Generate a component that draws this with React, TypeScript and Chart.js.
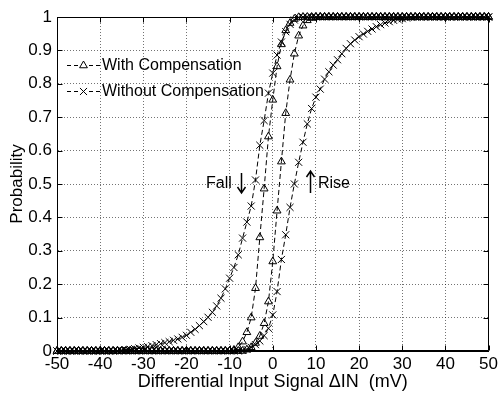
import { useEffect, useRef } from 'react';
import { Chart, registerables } from 'chart.js';

Chart.register(...registerables);

// Differential input signal (mV), one sample per mV
const MV = [
  -50, -49, -48, -47, -46, -45, -44, -43, -42, -41,
  -40, -39, -38, -37, -36, -35, -34, -33, -32, -31,
  -30, -29, -28, -27, -26, -25, -24, -23, -22, -21,
  -20, -19, -18, -17, -16, -15, -14, -13, -12, -11,
  -10, -9, -8, -7, -6, -5, -4, -3, -2, -1,
  0, 1, 2, 3, 4, 5, 6, 7, 8, 9,
  10, 11, 12, 13, 14, 15, 16, 17, 18, 19,
  20, 21, 22, 23, 24, 25, 26, 27, 28, 29,
  30, 31, 32, 33, 34, 35, 36, 37, 38, 39,
  40, 41, 42, 43, 44, 45, 46, 47, 48, 49,
  50,
];

// With compensation, falling input
const FALL_WITH = [
  0, 0, 0, 0, 0, 0, 0, 0, 0, 0,
  0, 0, 0, 0, 0, 0, 0, 0, 0, 0,
  0, 0, 0, 0, 0, 0, 0, 0, 0, 0,
  0, 0, 0, 0, 0, 0, 0, 0, 0, 0,
  0, 0.003, 0.011, 0.028, 0.056, 0.1, 0.188, 0.34, 0.486, 0.642,
  0.752, 0.852, 0.918, 0.96, 0.982, 0.994, 0.999, 1, 1, 1,
  1, 1, 1, 1, 1, 1, 1, 1, 1, 1,
  1, 1, 1, 1, 1, 1, 1, 1, 1, 1,
  1, 1, 1, 1, 1, 1, 1, 1, 1, 1,
  1, 1, 1, 1, 1, 1, 1, 1, 1, 1,
  1,
];

// With compensation, rising input
const RISE_WITH = [
  0, 0, 0, 0, 0, 0, 0, 0, 0, 0,
  0, 0, 0, 0, 0, 0, 0, 0, 0, 0,
  0, 0, 0, 0, 0, 0, 0, 0, 0, 0,
  0, 0, 0, 0, 0, 0, 0, 0, 0, 0,
  0, 0, 0, 0, 0.004, 0.011, 0.024, 0.045, 0.083, 0.148,
  0.268, 0.42, 0.567, 0.712, 0.812, 0.89, 0.944, 0.974, 0.99, 0.997,
  1, 1, 1, 1, 1, 1, 1, 1, 1, 1,
  1, 1, 1, 1, 1, 1, 1, 1, 1, 1,
  1, 1, 1, 1, 1, 1, 1, 1, 1, 1,
  1, 1, 1, 1, 1, 1, 1, 1, 1, 1,
  1,
];

// Without compensation, falling input
const FALL_WITHOUT = [
  0, 0, 0, 0, 0, 0, 0, 0, 0, 0,
  0, 0, 0, 0, 0.001, 0.002, 0.003, 0.005, 0.007, 0.009,
  0.011, 0.013, 0.016, 0.019, 0.022, 0.025, 0.028, 0.032, 0.036, 0.041,
  0.047, 0.056, 0.065, 0.076, 0.088, 0.101, 0.116, 0.135, 0.158, 0.186,
  0.218, 0.25, 0.288, 0.338, 0.386, 0.434, 0.512, 0.616, 0.69, 0.772,
  0.832, 0.886, 0.925, 0.956, 0.978, 0.991, 0.998, 1, 1, 1,
  1, 1, 1, 1, 1, 1, 1, 1, 1, 1,
  1, 1, 1, 1, 1, 1, 1, 1, 1, 1,
  1, 1, 1, 1, 1, 1, 1, 1, 1, 1,
  1, 1, 1, 1, 1, 1, 1, 1, 1, 1,
  1,
];

// Without compensation, rising input
const RISE_WITHOUT = [
  0, 0, 0, 0, 0, 0, 0, 0, 0, 0,
  0, 0, 0, 0, 0, 0, 0, 0, 0, 0,
  0, 0, 0, 0, 0, 0, 0, 0, 0, 0,
  0, 0, 0, 0, 0, 0, 0, 0, 0, 0,
  0, 0, 0, 0.002, 0.005, 0.011, 0.019, 0.03, 0.046, 0.068,
  0.108, 0.178, 0.274, 0.348, 0.43, 0.5, 0.565, 0.625, 0.68, 0.726,
  0.76, 0.784, 0.814, 0.836, 0.856, 0.872, 0.89, 0.906, 0.92, 0.931,
  0.941, 0.949, 0.957, 0.964, 0.971, 0.977, 0.982, 0.986, 0.99, 0.993,
  0.995, 0.997, 0.999, 1, 1, 1, 1, 1, 1, 1,
  1, 1, 1, 1, 1, 1, 1, 1, 1, 1,
  1,
];

const X_TICKS = [-50, -40, -30, -20, -10, 0, 10, 20, 30, 40, 50];
const Y_TICKS = [0, 0.1, 0.2, 0.3, 0.4, 0.5, 0.6, 0.7, 0.8, 0.9, 1];
const LEGEND_LABELS = ['With Compensation', 'Without Compensation'];
const X_TITLE = 'Differential Input Signal \u0394IN  (mV)';
const Y_TITLE = 'Probability';
const FALL_LABEL = 'Fall';
const RISE_LABEL = 'Rise';

const FONT = '"Liberation Sans", Arial, Helvetica, sans-serif';

function drawTriangle(ctx: CanvasRenderingContext2D, x: number, y: number, r: number) {
  ctx.beginPath();
  let rad = 0;
  ctx.moveTo(x + Math.sin(rad) * r, y - Math.cos(rad) * r);
  rad += (2 * Math.PI) / 3;
  ctx.lineTo(x + Math.sin(rad) * r, y - Math.cos(rad) * r);
  rad += (2 * Math.PI) / 3;
  ctx.lineTo(x + Math.sin(rad) * r, y - Math.cos(rad) * r);
  ctx.closePath();
  ctx.stroke();
}

function drawCrossRot(ctx: CanvasRenderingContext2D, x: number, y: number, r: number) {
  const d = Math.cos(Math.PI / 4) * r;
  ctx.beginPath();
  ctx.moveTo(x - d, y - d);
  ctx.lineTo(x + d, y + d);
  ctx.moveTo(x - d, y + d);
  ctx.lineTo(x + d, y - d);
  ctx.stroke();
}

const framePlugin = {
  id: 'frame',
  afterDatasetsDraw(chart: any) {
    const { ctx, chartArea: a, scales } = chart;
    const xs = scales.x;
    const ys = scales.y;
    ctx.save();
    ctx.strokeStyle = '#000';
    ctx.lineWidth = 1;
    ctx.setLineDash([]);
    const L = Math.round(a.left) + 0.5;
    const R = Math.round(a.right) - 0.5;
    const T = Math.round(a.top) + 0.5;
    const B = Math.round(a.bottom) - 0.5;
    ctx.beginPath();
    ctx.moveTo(L, T);
    ctx.lineTo(R, T);
    ctx.lineTo(R, B);
    ctx.lineTo(L, B);
    ctx.closePath();
    ctx.stroke();
    // inward ticks
    ctx.beginPath();
    X_TICKS.forEach((v) => {
      const px = Math.round(xs.getPixelForValue(v)) + 0.5;
      ctx.moveTo(px, B);
      ctx.lineTo(px, B - 5);
      ctx.moveTo(px, T);
      ctx.lineTo(px, T + 5);
    });
    Y_TICKS.forEach((v) => {
      const py = Math.round(ys.getPixelForValue(v)) + 0.5;
      ctx.moveTo(L, py);
      ctx.lineTo(L + 5, py);
      ctx.moveTo(R, py);
      ctx.lineTo(R - 5, py);
    });
    ctx.stroke();

    // legend
    ctx.font = `16px ${FONT}`;
    ctx.fillStyle = '#000';
    ctx.textBaseline = 'middle';
    ctx.textAlign = 'left';
    const rows = [65, 91];
    rows.forEach((ry, i) => {
      ctx.setLineDash([4, 3]);
      ctx.beginPath();
      ctx.moveTo(67, ry + 0.5);
      ctx.lineTo(78, ry + 0.5);
      ctx.moveTo(89, ry + 0.5);
      ctx.lineTo(100, ry + 0.5);
      ctx.stroke();
      ctx.setLineDash([]);
      if (i === 0) drawTriangle(ctx, 83.5, ry + 0.5, 4.5);
      else drawCrossRot(ctx, 83.5, ry + 0.5, 5);
      ctx.fillText(LEGEND_LABELS[i], 102, ry + 1);
    });

    // annotations
    ctx.fillText(FALL_LABEL, 206, 184);
    ctx.fillText(RISE_LABEL, 318, 184);
    const arrow = (x: number, y1: number, y2: number) => {
      ctx.beginPath();
      ctx.moveTo(x, y1);
      ctx.lineTo(x, y2);
      const dir = y2 > y1 ? -1 : 1;
      ctx.moveTo(x - 4, y2 + dir * 6);
      ctx.lineTo(x, y2);
      ctx.lineTo(x + 4, y2 + dir * 6);
      ctx.stroke();
    };
    ctx.lineWidth = 1.5;
    arrow(241.5, 173, 193);
    arrow(310.5, 193, 171);
    ctx.restore();
  },
};

function makeDataset(values: number[], style: string, radius: number) {
  return {
    data: MV.map((m, i) => ({ x: m, y: values[i] })),
    borderColor: '#000',
    borderWidth: 1,
    borderDash: [5, 3],
    pointStyle: style,
    pointRadius: radius,
    pointHoverRadius: radius,
    pointBorderColor: '#000',
    pointBackgroundColor: 'rgba(0,0,0,0)',
    pointBorderWidth: 1,
    fill: false,
    tension: 0,
    clip: 8,
  };
}

export default function App() {
  const ref = useRef<HTMLCanvasElement | null>(null);
  useEffect(() => {
    document.body.style.margin = '0';
    const canvas = ref.current;
    if (!canvas) return;
    const chart = new Chart(canvas, {
      type: 'line',
      data: {
        datasets: [
          makeDataset(FALL_WITHOUT, 'crossRot', 5),
          makeDataset(RISE_WITHOUT, 'crossRot', 5),
          makeDataset(FALL_WITH, 'triangle', 4.5),
          makeDataset(RISE_WITH, 'triangle', 4.5),
        ] as any,
      },
      options: {
        animation: false,
        responsive: false,
        devicePixelRatio: 1,
        layout: { padding: { top: 17, right: 11, left: 0, bottom: 0 } },
        plugins: {
          legend: { display: false },
          tooltip: { enabled: false },
        },
        scales: {
          x: {
            type: 'linear',
            min: -50,
            max: 50,
            afterFit: (s: any) => {
              s.height = 42;
            },
            afterBuildTicks: (s: any) => {
              s.ticks = X_TICKS.map((v) => ({ value: v }));
            },
            ticks: {
              color: '#000',
              font: { family: FONT, size: 17 },
              padding: 3,
              maxRotation: 0,
              autoSkip: false,
              callback: (v: any) => String(v),
            },
            grid: {
              color: 'rgba(0,0,0,0.55)',
              lineWidth: 1,
              drawTicks: false,
            },
            border: { display: true, color: '#000', width: 1, dash: [1, 2] },
            title: {
              display: true,
              text: X_TITLE,
              color: '#000',
              font: { family: FONT, size: 18 },
              padding: { top: 0, bottom: 0 },
            },
          },
          y: {
            type: 'linear',
            min: 0,
            max: 1,
            afterFit: (s: any) => {
              s.width = 57;
            },
            afterBuildTicks: (s: any) => {
              s.ticks = Y_TICKS.map((v) => ({ value: v }));
            },
            ticks: {
              color: '#000',
              font: { family: FONT, size: 17 },
              padding: 5,
              autoSkip: false,
              callback: (v: any) => String(Math.round(Number(v) * 10) / 10),
            },
            grid: {
              color: 'rgba(0,0,0,0.55)',
              lineWidth: 1,
              drawTicks: false,
            },
            border: { display: true, color: '#000', width: 1, dash: [1, 2] },
            title: {
              display: true,
              text: Y_TITLE,
              color: '#000',
              font: { family: FONT, size: 17 },
              padding: { top: 7, bottom: 0 },
            },
          },
        },
      } as any,
      plugins: [framePlugin as any],
    });
    return () => chart.destroy();
  }, []);
  return <canvas ref={ref} width={501} height={393} style={{ display: 'block' }} />;
}
